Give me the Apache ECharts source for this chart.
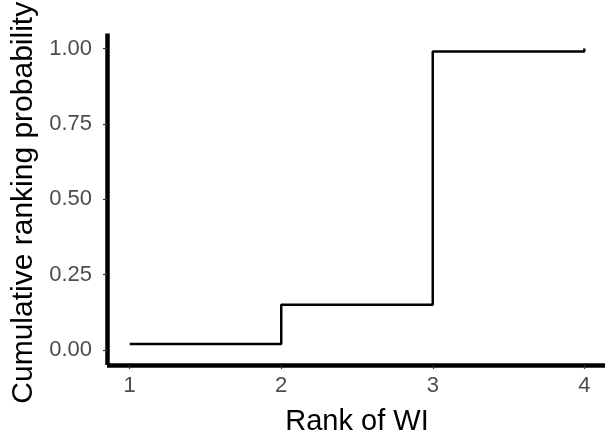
<!DOCTYPE html>
<html>
<head>
<meta charset="utf-8">
<script src="https://cdn.jsdelivr.net/npm/echarts@6/dist/echarts.min.js"></script>
<style>
html,body{margin:0;padding:0;background:#fff;}
#chart{width:605px;height:442px;}
</style>
</head>
<body>
<div id="chart"></div>
<script>
const ranks = [1, 2, 3, 4];
const cumProb = [0.02, 0.15, 0.99, 1.00];
const xTicks = [1, 2, 3, 4];
const yTicks = [0, 0.25, 0.5, 0.75, 1];
const xTitle = 'Rank of WI';
const yTitle = 'Cumulative ranking probability';

const chart = echarts.init(document.getElementById('chart'), null, {renderer: 'canvas'});
const font = 'Liberation Sans, Arial, Helvetica, sans-serif';
chart.setOption({
  animation: false,
  backgroundColor: '#ffffff',
  grid: {left: 107, right: -2, top: 33.5, bottom: 77, outerBoundsMode: 'none', containLabel: false},
  xAxis: {
    type: 'value', min: 0.85, max: 4.15,
    name: xTitle, nameLocation: 'middle', nameGap: 42,
    nameTextStyle: {fontFamily: font, fontSize: 29, color: '#000'},
    axisLine: {show: true, onZero: false, lineStyle: {color: '#000', width: 4.5, cap: 'butt'}},
    axisTick: {show: true, length: 4, customValues: xTicks, lineStyle: {color: '#333', width: 1.2}},
    axisLabel: {customValues: xTicks, margin: 10, fontFamily: font, fontSize: 22, color: '#4d4d4d',
      hideOverlap: false, showMinLabel: true, showMaxLabel: true,
      formatter: v => String(v)},
    splitLine: {show: false}
  },
  yAxis: {
    type: 'value', min: -0.05, max: 1.05,
    name: yTitle, nameLocation: 'middle', nameGap: 68,
    nameTextStyle: {fontFamily: font, fontSize: 30, color: '#000', padding: [0, 7, 0, 0]},
    axisLine: {show: true, onZero: false, lineStyle: {color: '#000', width: 4.5, cap: 'butt'}},
    axisTick: {show: true, length: 4, customValues: yTicks, lineStyle: {color: '#333', width: 1.2}},
    axisLabel: {customValues: yTicks, margin: 15, fontFamily: font, fontSize: 22, color: '#4d4d4d',
      formatter: v => v.toFixed(2)},
    splitLine: {show: false}
  },
  series: [{
    type: 'line', step: 'end', showSymbol: false,
    data: ranks.map((r, i) => [r, cumProb[i]]),
    lineStyle: {color: '#000', width: 2.5}
  }]
});
</script>
</body>
</html>
